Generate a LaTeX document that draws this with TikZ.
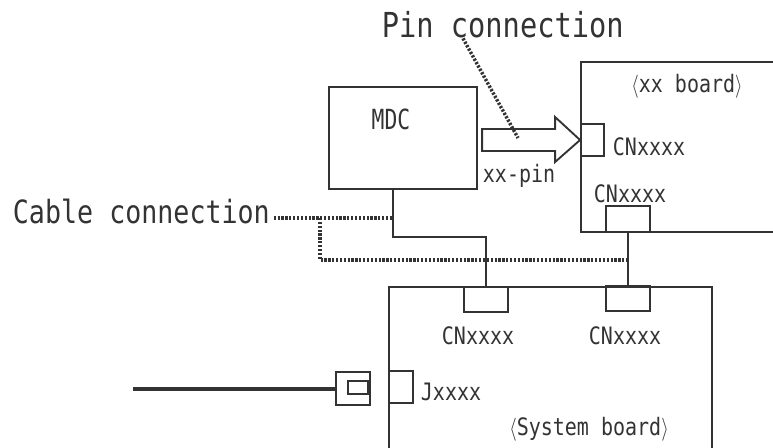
\documentclass[tikz,border=0pt]{standalone}
\usepackage{graphicx}
\usepackage{fontspec}
\setmonofont{DejaVu Sans Mono}
\usetikzlibrary{calc}
\definecolor{ink}{HTML}{333333}
\newcommand{\tallbox}[1]{\scalebox{1}[1.2]{#1}}

\begin{document}
\begin{tikzpicture}[x=0.75pt, y=-0.75pt, line width=1.4pt, color=ink,
    box/.style 2 args={draw, inner sep=0pt, minimum width=#1*0.75pt, minimum height=#2*0.75pt},
    lbl/.style={font=\ttfamily\fontsize{15}{18}\selectfont, inner sep=0pt},
    dotline/.style={line width=2.6pt, dash pattern=on 1.7pt off 1.2pt}]
        \useasboundingbox (0,0) rectangle (773,447);

        % Boards and module
        \node[box={148}{102}] (mdc) at (403,138) {};
        \node[box={209}{170}] (xxb) at (685.5,147) {};
        \node[box={323}{183}] (sysb) at (550.5,378.5) {};

        % Connectors
        \node[box={23}{32}] (cnB) at (592.5,140) {};
        \node[box={44}{26}] (cnD) at (628,219) {};
        \node[box={44}{25}] (cnA) at (486,299.5) {};
        \node[box={44}{25}] (cnC) at (628,298.5) {};
        \node[box={24}{32}] (jack) at (401,387) {};
        \node[box={34}{33}] (plug) at (353,388.5) {};
        \node[box={20}{13}] (plugin) at (358,387.5) {};

        % Wires
        \coordinate (mdcout) at (393,189);
        \draw (mdcout) -- ++(0,48) -| (cnA.north);
        \draw (cnD.south) -- (cnC.north);
        \coordinate (cableend) at (133,388.5);
        \draw[line width=3pt] (cableend) -- (plug.west);

        % Pin arrow
        \draw[fill=white] (cnB.west) -- ++(-25,-23) -- ++(0,12) -- ++(-73,0) -- ++(0,22) -- ++(73,0) -- ++(0,11) -- cycle;

        % Texts
        \node[lbl, font=\ttfamily\fontsize{21.5}{24}\selectfont, anchor=base west] (pin) at (381,37) {\tallbox{Pin connection}};
        \node[lbl, font=\ttfamily\fontsize{20}{24}\selectfont, anchor=base west] (cable) at (12,223) {\tallbox{Cable connection}};
        \node[lbl, font=\ttfamily\fontsize{16}{18}\selectfont, anchor=base] (mdclabel) at (391,129) {\scalebox{1}[1.3]{MDC}};
        \node[lbl, anchor=base west] (pinlabel) at (482,182) {\tallbox{xx-pin}};
        \node[lbl, anchor=base] (xxlabel) at (687,92) {\tallbox{$\langle$xx board$\rangle$}};
        \node[lbl, anchor=base west] (cnBlabel) at (612,155) {\tallbox{CNxxxx}};
        \node[lbl, anchor=base west] (cnDlabel) at (593,202) {\tallbox{CNxxxx}};
        \node[lbl, anchor=base west] (cnAlabel) at (441,344) {\tallbox{CNxxxx}};
        \node[lbl, anchor=base west] (cnClabel) at (588,344) {\tallbox{CNxxxx}};
        \node[lbl, anchor=base west] (jacklabel) at (420,400) {\tallbox{Jxxxx}};
        \node[lbl, anchor=base] (syslabel) at (589,435) {\tallbox{$\langle$System board$\rangle$}};

        % Leaders
        \coordinate (pinend) at (518,138);
        \draw[dotline] ($(pin.south west)+(82,0)$) -- (pinend);
        \coordinate (cabtap) at (393,218);
        \coordinate (cabfork) at (320,218);
        \coordinate (cabend) at (628,260);
        \draw[dotline] ($(cable.east |- cabtap)+(3,0)$) -- (cabtap);
        \draw[dotline] (cabfork) |- (cabend);
    \end{tikzpicture}
\end{document}
